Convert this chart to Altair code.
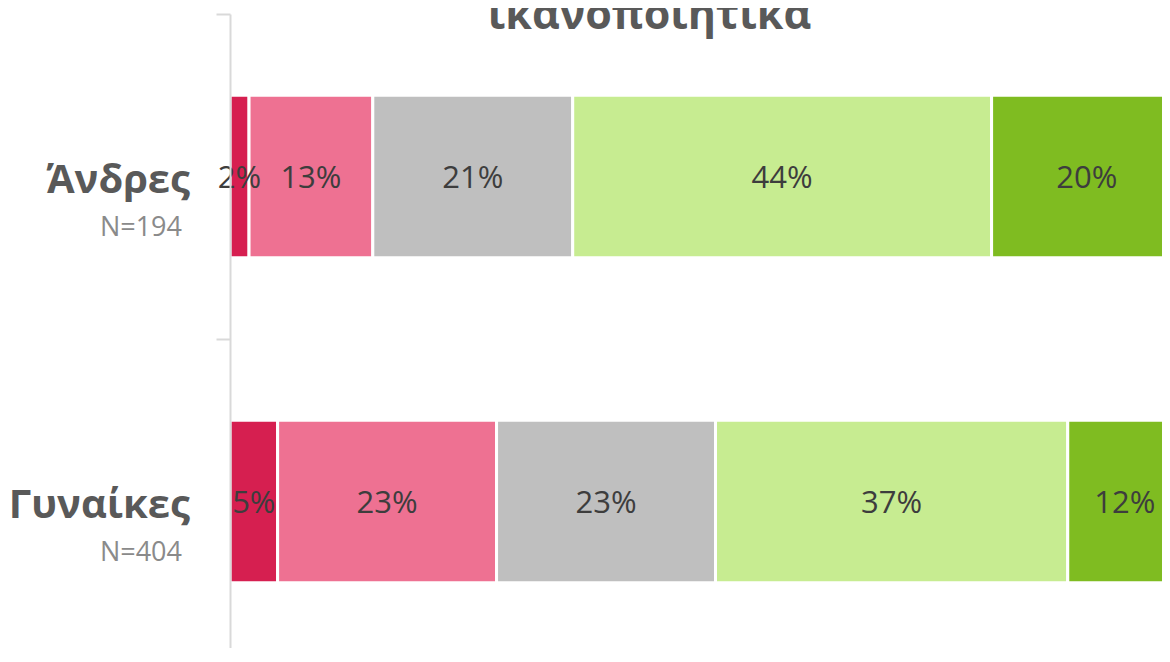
import altair as alt
import pandas as pd

# ---- data ----
groups = ["Άνδρες", "Γυναίκες"]
sample_sizes = ["N=194", "N=404"]
categories = ["Πολύ ανεπαρκώς", "Μάλλον ανεπαρκώς", "Ούτε ικανοποιητικά ούτε ανεπαρκώς",
              "Μάλλον ικανοποιητικά", "Πολύ ικανοποιητικά"]
men_values = [2, 13, 21, 44, 20]
women_values = [5, 23, 23, 37, 12]
colors = ["#D61F50", "#EE7192", "#BFBFBF", "#C7EC91", "#7FBC21"]
title_lines = ["ικανοποιητικά"]

FONT = "Open Sans"

rows = []
for g, vals in zip(groups, [men_values, women_values]):
    for i, (c, v) in enumerate(zip(categories, vals)):
        rows.append({"group": g, "cat": c, "order": i, "value": v})
df = pd.DataFrame(rows)
labels_df = pd.DataFrame({"group": groups, "n": sample_sizes})
title_df = pd.DataFrame({"t": title_lines})

y_scale = alt.Scale(paddingInner=0, paddingOuter=0, range=[0, 650])
y_enc = alt.Y("group:N", sort=groups, scale=y_scale,
              axis=alt.Axis(labels=False, title=None, ticks=True, tickSize=14,
                            tickColor="#d9d9d9", tickWidth=2, domainColor="#d9d9d9",
                            domainWidth=2, bandPosition=0, zindex=1))
x_scale = alt.Scale(domain=[0, 97.9], nice=False, zero=True)

base = alt.Chart(df).transform_stack(
    stack="value", as_=["x0", "x1"], groupby=["group"],
    sort=[alt.SortField("order", order="ascending")]
).transform_calculate(
    mid="(datum.x0 + datum.x1) / 2", label="datum.value + '%'"
)

bars = base.mark_bar(clip=True, stroke="white", strokeWidth=3,
                     height=alt.RelativeBandSize(0.5)).encode(
    x=alt.X("x0:Q", scale=x_scale, axis=None),
    x2="x1:Q",
    y=y_enc,
    color=alt.Color("cat:N", sort=categories,
                    scale=alt.Scale(domain=categories, range=colors), legend=None),
)

pct = base.mark_text(font=FONT, fontSize=31, color="#3d3d3d", baseline="middle",
                     align="center", dy=2).encode(
    x=alt.X("mid:Q", scale=x_scale, axis=None),
    y=alt.Y("group:N", sort=groups),
    text="label:N",
)

names = alt.Chart(labels_df).mark_text(font=FONT, fontSize=40, fontWeight="bold",
                                       color="#595959", align="right",
                                       baseline="alphabetic", dy=16).encode(
    x=alt.value(-40),
    y=alt.Y("group:N", sort=groups),
    text="group:N",
)

ns = alt.Chart(labels_df).mark_text(font=FONT, fontSize=27, color="#8a8a8a",
                                    align="right", baseline="alphabetic", dy=59).encode(
    x=alt.value(-48),
    y=alt.Y("group:N", sort=groups),
    text="n:N",
)

title = alt.Chart(title_df).mark_text(font=FONT, fontSize=43, fontWeight="bold",
                                      color="#595959", align="center",
                                      baseline="alphabetic").encode(
    x=alt.value(419.5),
    y=alt.value(15),
    text="t:N",
)

chart = alt.layer(bars, pct, names, ns, title).properties(
    width=932, height=634,
    autosize=alt.AutoSizeParams(type="none"),
    padding={"left": 222, "top": 6, "right": 0, "bottom": 0},
).configure_view(stroke=None)

chart.save("out.html", embed_options={"renderer": "svg", "actions": False})
